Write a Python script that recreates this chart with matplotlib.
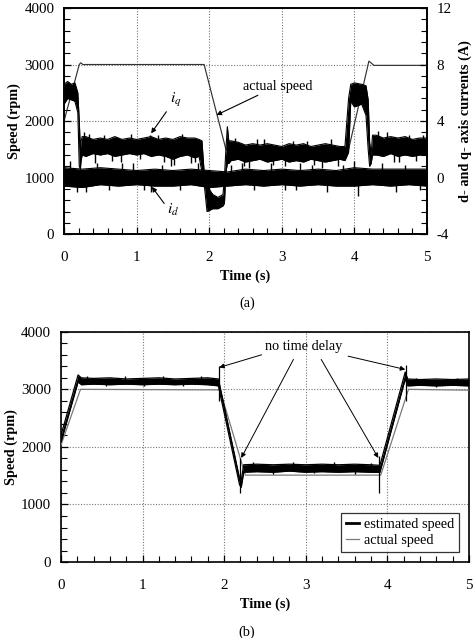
import matplotlib
matplotlib.use("Agg")
import matplotlib.pyplot as plt
from matplotlib.ticker import MultipleLocator
from matplotlib.lines import Line2D

plt.rcParams['font.family'] = ['Liberation Serif', 'DejaVu Serif']
plt.rcParams['mathtext.fontset'] = 'stix'
plt.rcParams['axes.unicode_minus'] = False

# ---------------- (a) data ----------------
speed_t = [0.0, 0.21, 0.23, 0.26, 1.93, 2.23, 3.92, 4.20, 4.27, 5.0]
speed_v = [2000, 3000, 3030, 3000, 3000, 1500, 1500, 3060, 2985, 2985]

iq_t = [0.00, 0.05, 0.10, 0.15, 0.19, 0.21, 0.225, 0.235, 0.25,
        0.3, 0.4, 0.5, 0.6, 0.7, 0.8, 0.9, 1.0, 1.1, 1.2, 1.3, 1.4, 1.5, 1.6, 1.7, 1.8, 1.86,
        1.90, 1.93, 1.97, 2.05, 2.12, 2.19, 2.21, 2.23, 2.25, 2.27,
        2.3, 2.4, 2.5, 2.6, 2.7, 2.8, 2.9, 3.0, 3.1, 3.2, 3.3, 3.4, 3.5, 3.6, 3.7, 3.8, 3.87,
        3.92, 3.95, 4.0, 4.1, 4.16, 4.19, 4.21, 4.23, 4.25,
        4.3, 4.4, 4.5, 4.6, 4.7, 4.8, 4.9, 5.0]
iq_hi = [6.6, 6.8, 6.6, 6.7, 6.0, 4.0, 2.0, 2.6, 2.9,
         2.9, 2.7, 2.8, 2.7, 2.9, 2.7, 2.8, 2.7, 2.8, 2.9, 2.7, 2.8, 2.7, 2.9, 2.8, 2.8, 2.7,
         2.6, 0.4, -0.6, -1.2, -1.4, -1.2, 0.0, 2.0, 3.6, 2.6,
         2.6, 2.5, 2.3, 2.4, 2.3, 2.4, 2.3, 2.2, 2.4, 2.3, 2.4, 2.2, 2.3, 2.4, 2.3, 2.2, 2.2,
         5.6, 6.6, 6.7, 6.6, 6.5, 5.5, 2.5, 1.6, 3.0,
         3.0, 2.8, 2.9, 2.8, 2.9, 2.7, 2.8, 2.8]
iq_lo = [5.2, 5.6, 5.5, 5.4, 4.6, 0.8, 0.6, 1.2, 1.6,
         1.5, 1.7, 1.6, 1.7, 1.5, 1.6, 1.7, 1.6, 1.7, 1.5, 1.6, 1.5, 1.3, 1.5, 1.6, 1.4, 1.5,
         0.4, -0.4, -2.4, -2.2, -2.2, -2.0, -1.8, 0.4, 1.0, 1.0,
         1.2, 1.3, 1.1, 1.2, 1.3, 1.1, 1.2, 1.3, 1.1, 1.2, 1.1, 1.3, 1.2, 1.1, 1.2, 1.3, 1.2,
         1.8, 5.4, 5.0, 5.2, 4.4, 2.0, 0.8, 1.0, 1.6,
         1.6, 1.5, 1.7, 1.5, 1.6, 1.5, 1.6, 1.6]

id_t = [0.0, 0.25, 0.5, 0.75, 1.0, 1.25, 1.5, 1.75, 2.0, 2.25, 2.5,
        2.75, 3.0, 3.25, 3.5, 3.75, 4.0, 4.25, 4.5, 4.75, 5.0]
id_hi = [0.7, 0.6, 0.7, 0.6, 0.5, 0.6, 0.5, 0.6, 0.5, 0.4, 0.6,
         0.5, 0.6, 0.5, 0.6, 0.5, 0.7, 0.6, 0.6, 0.6, 0.6]
id_lo = [-0.6, -0.7, -0.5, -0.6, -0.5, -0.6, -0.6, -0.5, -0.7, -0.6, -0.5,
         -0.6, -0.5, -0.6, -0.5, -0.6, -0.6, -0.5, -0.6, -0.5, -0.6]

# spikes (time, value in A)
iq_spk_t = [0.28, 0.35, 0.42, 0.55, 0.66, 0.78, 0.92, 1.05, 1.18, 1.30, 1.38, 1.47, 1.52, 1.63, 1.75, 1.80,
            2.35, 2.48, 2.55, 2.66, 2.75, 2.88, 3.05, 3.15, 3.35, 3.45, 3.55, 3.68, 3.78,
            4.33, 4.45, 4.55, 4.62, 4.75, 4.85, 4.95]
iq_spk_v = [3.2, 3.1, 1.0, 3.0, 1.2, 1.1, 3.1, 1.3, 3.0, 3.0, 1.1, 0.8, 0.9, 3.1, 1.0, 1.1,
            2.8, 0.8, 0.7, 2.7, 2.7, 0.9, 0.8, 2.6, 2.6, 0.9, 0.7, 2.7, 0.8,
            3.3, 3.2, 1.1, 1.1, 3.0, 1.2, 3.0]
iq_spk_base = [2.2] * 16 + [1.8] * 13 + [2.2] * 7
id_spk_t = [0.08, 0.18, 0.30, 0.45, 0.62, 0.80, 0.95, 1.10, 1.20, 1.35, 1.60, 1.85, 2.00, 2.30, 2.45,
            2.62, 2.85, 3.05, 3.20, 3.25, 3.42, 3.62, 3.85, 4.00, 4.05, 4.38, 4.58, 4.70, 4.90]
id_spk_v = [1.2, -1.0, -1.0, 1.0, -0.9, 1.0, 1.0, -0.9, -1.0, 0.9, -0.9, 1.0, -1.5, 0.9, 1.0,
            -0.9, 1.0, -0.9, -0.9, 1.0, 0.9, -1.0, 0.9, 1.2, -1.3, 1.0, -1.0, 0.9, -0.9]

# ---------------- (b) data ----------------
est_t = [0.00, 0.21, 0.25, 0.4, 0.6, 0.8, 1.0, 1.2, 1.4, 1.6, 1.8, 1.93, 2.19, 2.21, 2.24,
         2.4, 2.6, 2.8, 3.0, 3.2, 3.4, 3.6, 3.8, 3.91, 4.22, 4.25, 4.4, 4.6, 4.8, 5.0]
est_hi = [2200, 3250, 3200, 3190, 3200, 3180, 3190, 3200, 3180, 3190, 3200, 3180, 1450, 1420, 1690,
          1700, 1690, 1700, 1690, 1700, 1690, 1700, 1690, 1680, 3300, 3180, 3170, 3180, 3170, 3180]
est_lo = [2080, 3130, 3080, 3090, 3080, 3090, 3080, 3090, 3080, 3090, 3080, 3060, 1340, 1300, 1560,
          1570, 1560, 1580, 1560, 1570, 1560, 1570, 1560, 1560, 3180, 3060, 3070, 3060, 3070, 3060]
est_spk_t = [0.32, 0.55, 0.78, 1.02, 1.25, 1.50, 1.72, 2.35, 2.60, 2.85, 3.10, 3.35, 3.60, 3.80, 4.35, 4.60, 4.85]
est_spk_v = [3230, 3060, 3230, 3060, 3230, 3060, 3230, 1730, 1530, 1730, 1540, 1730, 1530, 1720, 3200, 3040, 3200]
est_spk_base = [3140] * 7 + [1630] * 7 + [3120] * 3
act_t = [0.0, 0.24, 1.95, 2.26, 3.92, 4.26, 5.0]
act_v = [2030, 3000, 2990, 1510, 1510, 3000, 2985]

mark_t = [1.94, 2.20, 3.90, 4.23]
mark_lo = [2800, 1200, 1200, 2800]
mark_hi = [3400, 1800, 1850, 3420]

FS = 10.3
TFS = 10.8

fig = plt.figure(figsize=(4.76, 6.38), dpi=100)


def style_axis(ax):
    ax.set_xlim(0, 5)
    ax.set_ylim(0, 4000)
    ax.xaxis.set_major_locator(MultipleLocator(1))
    ax.xaxis.set_minor_locator(MultipleLocator(0.2))
    ax.yaxis.set_major_locator(MultipleLocator(1000))
    ax.yaxis.set_minor_locator(MultipleLocator(200))
    ax.grid(True, which='major', linestyle=(0, (1, 1.5)), color='#777777', linewidth=0.8)
    ax.tick_params(which='both', direction='in', top=False, right=False, labelsize=TFS)
    ax.tick_params(which='major', length=5, width=0.9)
    ax.tick_params(which='minor', length=4, width=0.8)
    ax.tick_params(axis='x', which='major', pad=12)
    ax.tick_params(axis='y', which='major', pad=7)
    for s in ax.spines.values():
        s.set_linewidth(1.2)
    ax.set_xlabel('Time (s)', fontsize=FS, fontweight='bold', labelpad=4)
    ax.set_ylabel('Speed (rpm)', fontsize=FS, fontweight='bold', labelpad=2)


# ---------- (a) ----------
ax1 = fig.add_axes([0.1345, 0.633, 0.7625, 0.3545])
style_axis(ax1)
ax1.plot(speed_t, speed_v, color='#333333', linewidth=0.85, zorder=3)

ax1r = ax1.twinx()
ax1r.set_ylim(-4, 12)
ax1r.yaxis.set_major_locator(MultipleLocator(4))
ax1r.yaxis.set_minor_locator(MultipleLocator(0.8))
ax1r.tick_params(which='both', direction='in', labelsize=TFS)
ax1r.tick_params(which='major', length=5, width=0.9, pad=7)
ax1r.tick_params(which='minor', length=4, width=0.8)
for s in ax1r.spines.values():
    s.set_linewidth(1.2)
ax1r.set_ylabel('d- and q- axis currents (A)', fontsize=FS, fontweight='bold', labelpad=5)

ax1r.fill_between(id_t, id_lo, id_hi, color='black', linewidth=0)
ax1r.plot(id_t, id_lo, color='black', linewidth=0.8)
ax1r.plot(id_t, id_hi, color='black', linewidth=0.8)
ax1r.vlines(id_spk_t, 0, id_spk_v, color='black', linewidth=1.0)
ax1r.fill_between(iq_t, iq_lo, iq_hi, color='black', linewidth=0)
ax1r.plot(iq_t, iq_lo, color='black', linewidth=0.8)
ax1r.plot(iq_t, iq_hi, color='black', linewidth=0.8)
ax1r.vlines(iq_spk_t, iq_spk_base, iq_spk_v, color='black', linewidth=1.0)

arrow_kw = dict(arrowstyle='-|>', color='black', linewidth=0.8, mutation_scale=7, shrinkA=0, shrinkB=0)
ax1.annotate('actual speed', xy=(2.10, 2106), xytext=(2.46, 2620), fontsize=FS,
             ha='left', va='center', arrowprops=arrow_kw, zorder=5)
ax1.annotate('', xy=(1.20, 1782), xytext=(1.41, 2165), arrowprops=arrow_kw, zorder=5)
ax1.text(1.54, 2370, r'$i_q$', fontsize=FS + 1, ha='center', va='center')
ax1.annotate('', xy=(1.21, 837), xytext=(1.38, 543), arrowprops=arrow_kw, zorder=5)
ax1.text(1.50, 425, r'$i_d$', fontsize=FS + 1, ha='center', va='center')

fig.text(0.519, 1 - 303 / 638, '(a)', fontsize=FS, ha='center', va='center')

# ---------- (b) ----------
ax2 = fig.add_axes([0.128, 0.119, 0.857, 0.361])
style_axis(ax2)
ax2.plot(act_t, act_v, color='#7a7a7a', linewidth=0.9, zorder=3)
ax2.fill_between(est_t, est_lo, est_hi, color='black', linewidth=0, zorder=4)
ax2.plot(est_t, est_lo, color='black', linewidth=0.9, zorder=4)
ax2.plot(est_t, est_hi, color='black', linewidth=0.9, zorder=4)
ax2.vlines(est_spk_t, est_spk_base, est_spk_v, color='black', linewidth=1.0, zorder=4)
ax2.vlines(mark_t, mark_lo, mark_hi, color='black', linewidth=0.9, zorder=5)

h_est = Line2D([], [], color='black', linewidth=2.0)
h_act = Line2D([], [], color='#7a7a7a', linewidth=0.9)
leg = ax2.legend([h_est, h_act], ['estimated speed', 'actual speed'], loc='lower right',
                 fontsize=FS, frameon=True, fancybox=False, edgecolor='black',
                 handlelength=0.9, handletextpad=0.3, borderpad=0.35, labelspacing=0.2,
                 borderaxespad=0.7)
leg.get_frame().set_linewidth(0.9)

ax2.text(2.98, 3740, 'no time delay', fontsize=FS, ha='center', va='center')
arr2 = dict(arrowstyle='-|>', color='black', linewidth=0.7, mutation_scale=7, shrinkA=0, shrinkB=0)
ax2.annotate('', xy=(1.94, 3380), xytext=(2.46, 3600), arrowprops=arr2)
ax2.annotate('', xy=(2.21, 1808), xytext=(2.85, 3520), arrowprops=arr2)
ax2.annotate('', xy=(3.89, 1808), xytext=(3.19, 3520), arrowprops=arr2)
ax2.annotate('', xy=(4.22, 3345), xytext=(3.52, 3576), arrowprops=arr2)

fig.text(0.519, 1 - 632 / 638, '(b)', fontsize=FS, ha='center', va='center')

fig.savefig('out.png', dpi=100)
